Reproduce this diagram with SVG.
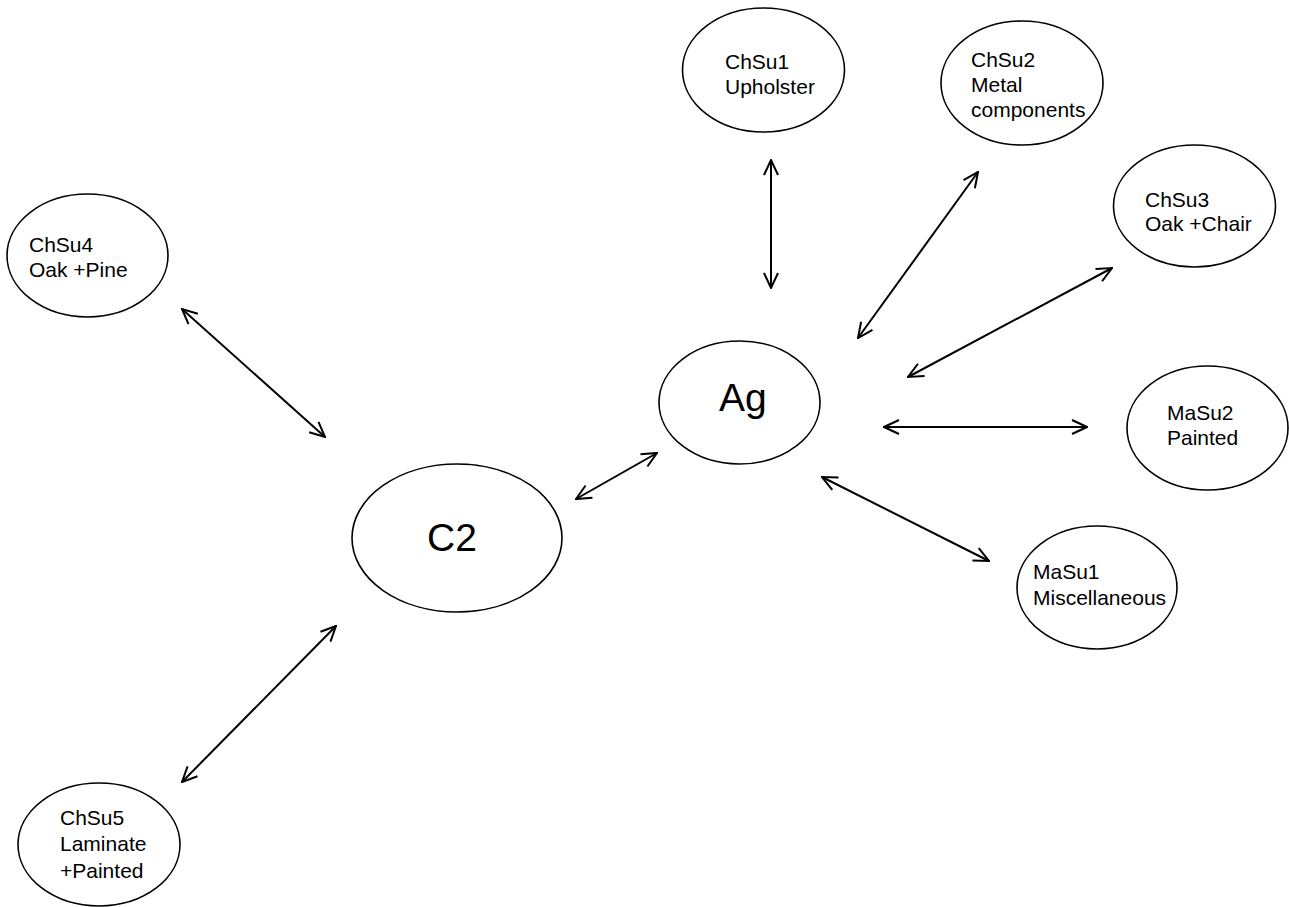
<svg xmlns="http://www.w3.org/2000/svg" width="1289" height="907" viewBox="0 0 1289 907">
<style>
.node ellipse{fill:#fff;stroke:#000;stroke-width:1.6}
.node text{font-family:"Liberation Sans",Arial,sans-serif;font-size:21px;fill:#000}
.node text.big{font-size:39px}
#connectors line{stroke:#000;stroke-width:2;marker-start:url(#arr);marker-end:url(#arr)}
</style>
<defs>
<marker id="arr" viewBox="0 0 17 16" markerWidth="17" markerHeight="16" refX="16" refY="8" orient="auto-start-reverse" markerUnits="userSpaceOnUse">
<path d="M1,1 L16,8 L1,15" fill="none" stroke="#000" stroke-width="2"/>
</marker>
</defs>
<rect width="1289" height="907" fill="#fff"/>
<g id="connectors">
<line x1="771" y1="160" x2="771" y2="288"/>
<line x1="978" y1="172" x2="858" y2="338"/>
<line x1="1112" y1="268" x2="908" y2="377"/>
<line x1="884" y1="427" x2="1087" y2="427"/>
<line x1="822" y1="477" x2="989" y2="561"/>
<line x1="657" y1="453" x2="576" y2="499"/>
<line x1="182" y1="309" x2="325" y2="437"/>
<line x1="336" y1="626" x2="182" y2="782"/>
</g>
<g id="ChSu1" class="node"><ellipse cx="763.5" cy="70" rx="81" ry="62"/><text x="725" y="69">ChSu1</text><text x="725" y="94">Upholster</text></g>
<g id="ChSu2" class="node"><ellipse cx="1022" cy="83" rx="81" ry="62"/><text x="971" y="67">ChSu2</text><text x="971" y="92">Metal</text><text x="971" y="117">components</text></g>
<g id="ChSu3" class="node"><ellipse cx="1194.5" cy="206" rx="81" ry="61"/><text x="1145" y="207">ChSu3</text><text x="1145" y="231">Oak +Chair</text></g>
<g id="ChSu4" class="node"><ellipse cx="87.5" cy="255.5" rx="80.5" ry="61.5"/><text x="29" y="252">ChSu4</text><text x="29" y="277">Oak +Pine</text></g>
<g id="Ag" class="node"><ellipse cx="739.5" cy="402.5" rx="80.5" ry="61.5"/><text class="big" x="719" y="411">Ag</text></g>
<g id="MaSu2" class="node"><ellipse cx="1207.5" cy="428" rx="80.5" ry="62"/><text x="1167" y="420">MaSu2</text><text x="1167" y="445">Painted</text></g>
<g id="C2" class="node"><ellipse cx="457" cy="538" rx="105" ry="74"/><text class="big" x="427" y="551">C2</text></g>
<g id="MaSu1" class="node"><ellipse cx="1097" cy="587.5" rx="80" ry="61.5"/><text x="1033" y="579">MaSu1</text><text x="1033" y="605">Miscellaneous</text></g>
<g id="ChSu5" class="node"><ellipse cx="99" cy="844.5" rx="81" ry="61.5"/><text x="60" y="825">ChSu5</text><text x="60" y="851">Laminate</text><text x="60" y="878">+Painted</text></g>
</svg>
